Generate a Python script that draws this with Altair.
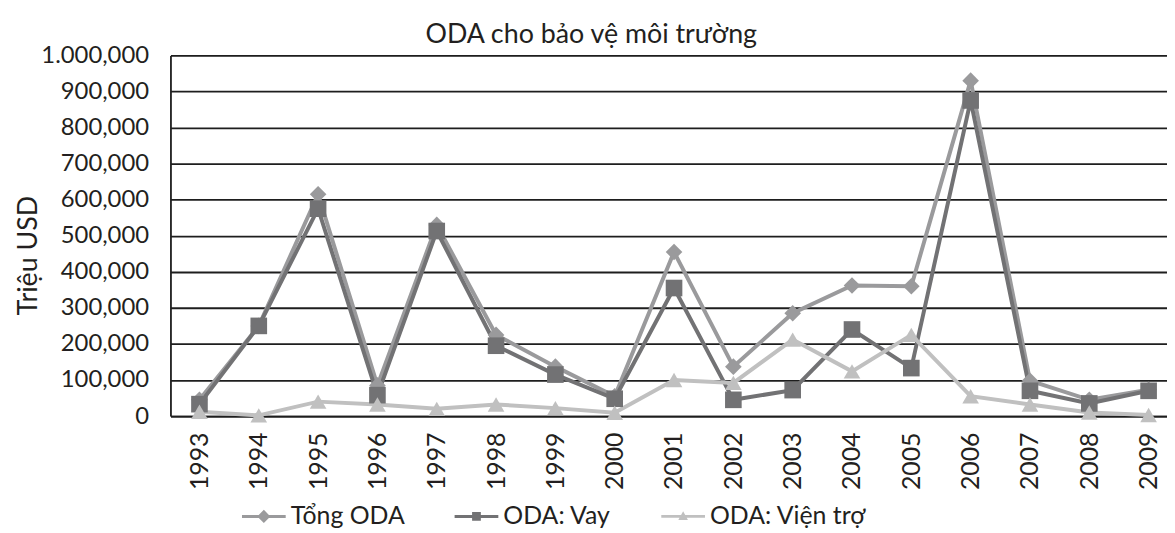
import altair as alt
import pandas as pd

years = list(range(1993, 2010))
series_names = ["Tổng ODA", "ODA: Vay", "ODA: Viện trợ"]
tong_oda = [45000, 250000, 615000, 85000, 530000, 225000, 137000, 55000, 455000,
            137000, 285000, 362000, 360000, 930000, 98000, 45000, 73000]
oda_vay = [33000, 250000, 575000, 58000, 513000, 195000, 115000, 48000, 355000,
           45000, 72000, 240000, 133000, 875000, 70000, 35000, 70000]
oda_vien_tro = [12000, 2000, 40000, 32000, 20000, 32000, 22000, 9000, 100000,
                92000, 212000, 124000, 225000, 55000, 32000, 10000, 3000]
y_ticks = [0, 100000, 200000, 300000, 400000, 500000, 600000, 700000, 800000, 900000, 1000000]

colors = ["#9a9a9c", "#727274", "#c0c0c0"]
shapes = ["diamond", "square", "triangle-up"]
legend_shapes = [
    "M-1,-0.07 H1 V0.07 H-1 Z M0,-0.3 L0.3,0 L0,0.3 L-0.3,0 Z",
    "M-1,-0.07 H1 V0.07 H-1 Z M-0.2,-0.2 H0.2 V0.2 H-0.2 Z",
    "M-1,-0.06 H1 V0.06 H-1 Z M0,-0.24 L0.22,0.16 L-0.22,0.16 Z",
]

rows = []
for name, vals in zip(series_names, [tong_oda, oda_vay, oda_vien_tro]):
    for yr, v in zip(years, vals):
        rows.append({"year": yr, "value": v, "series": name})
df = pd.DataFrame(rows)

FONT = "Lato"
TXT = "#231f20"
GRID = "#1e1e1e"


def make_legend():
    return alt.Legend(
        title=None, orient="none", direction="horizontal",
        legendX=72, legendY=442,
        labelFont=FONT, labelFontSize=25, labelColor=TXT,
        symbolSize=1936, labelOffset=5, columnPadding=50,
        symbolStrokeWidth=0, symbolOpacity=1,
    )


x_enc = alt.X("year:Q",
              scale=alt.Scale(domain=[1992.511, 2009.31], nice=False, zero=False),
              axis=alt.Axis(values=years, format="d", labelAngle=270, labelFont=FONT,
                            labelFontSize=25, labelColor=TXT, ticks=False, grid=False,
                            domainColor=GRID, domainWidth=1.8, labelPadding=74,
                            labelAlign="left", title=None, labelOverlap=False))
y_enc = alt.Y("value:Q",
              scale=alt.Scale(domain=[0, 1000000], nice=False),
              axis=alt.Axis(values=y_ticks,
                            labelExpr="datum.value == 1000000 ? '1.000,000' : datum.value == 0 ? '0' : format(datum.value, ',')",
                            labelFont=FONT, labelFontSize=24, labelColor=TXT,
                            ticks=False, grid=True, gridColor=GRID, gridWidth=1.8,
                            domainColor=GRID, domainWidth=1.8, labelPadding=22,
                            title="Triệu USD", titleFont=FONT, titleFontSize=27,
                            titleFontWeight="normal", titleColor=TXT,
                            titleX=-129, titleY=201))

color_scale = alt.Scale(domain=series_names, range=colors)

lines = alt.Chart(df).mark_line(strokeWidth=4).encode(
    x=x_enc, y=y_enc,
    color=alt.Color("series:N", scale=color_scale, legend=None),
    order=alt.Order("year:Q"),
)

points = alt.Chart(df).mark_point(filled=True, size=280, opacity=1).encode(
    x=x_enc, y=y_enc,
    color=alt.Color("series:N", scale=color_scale, legend=None),
    shape=alt.Shape("series:N", scale=alt.Scale(domain=series_names, range=shapes), legend=None),
)

legend_layer = alt.Chart(df).transform_filter("false").mark_point(filled=True).encode(
    x=x_enc, y=y_enc,
    color=alt.Color("series:N", scale=color_scale, legend=make_legend()),
    shape=alt.Shape("series:N", scale=alt.Scale(domain=series_names, range=legend_shapes),
                    legend=make_legend()),
)

chart = alt.layer(lines, points, legend_layer).resolve_scale(
    color="independent", shape="independent"
).properties(
    width=1003, height=363,
    title=alt.TitleParams("ODA cho bảo vệ môi trường", font=FONT, fontSize=27,
                          fontWeight="normal", color=TXT, anchor="middle", offset=3,
                          dx=-78, dy=9),
    autosize=alt.AutoSizeParams(type="none"),
    padding={"left": 163.5, "top": 46, "right": 0, "bottom": 116},
).configure_view(stroke=None).configure(background="white")

chart.save("out.html", embed_options={"renderer": "svg", "actions": False})
